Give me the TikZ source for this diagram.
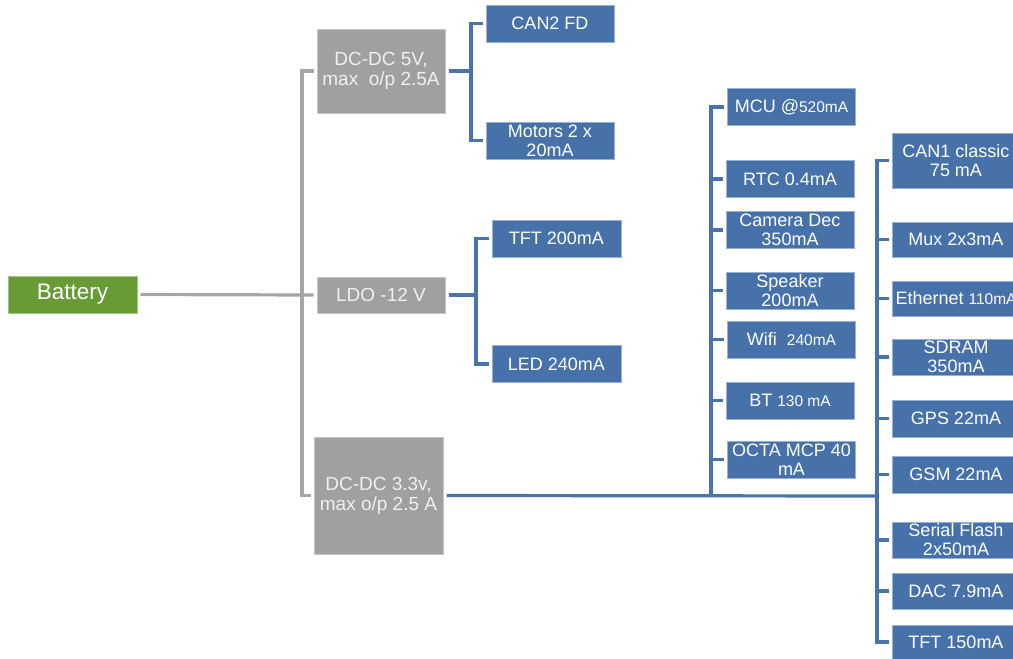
\documentclass[tikz,border=0pt]{standalone}
\usepackage{fontspec}
\setmainfont{Liberation Sans}
\usepackage{xcolor}
\usetikzlibrary{calc}

\definecolor{battgreen}{HTML}{689A35}
\definecolor{regrey}{HTML}{A0A0A0}
\definecolor{wiregrey}{HTML}{A6A6A6}
\definecolor{loadblue}{HTML}{4671A9}
\definecolor{wireblue}{HTML}{4873AB}

\newcommand{\sml}[1]{{\fontsize{15.5}{16}\selectfont #1}}

\begin{document}
\begin{tikzpicture}[
  x=1pt, y=-1pt,
  every node/.style={font=\fontsize{18}{19}\selectfont, align=center,
                     inner sep=1pt, outer sep=3.5pt},
  src/.style={fill=battgreen, draw=battgreen!60!white, line width=0.8pt,
              text=white, font=\fontsize{22.5}{24}\selectfont,
              minimum width=129pt, minimum height=37pt},
  reg/.style={fill=regrey, draw=regrey!60!white, line width=0.8pt,
              text=white!94!black, font=\fontsize{19}{20}\selectfont,
              minimum width=128pt, minimum height=36pt},
  load/.style={fill=loadblue, draw=loadblue!55!white, line width=0.8pt,
               text=white, minimum width=128pt, minimum height=37pt},
  gline/.style={draw=wiregrey, line width=3.2pt},
  bline/.style={draw=wireblue, line width=3.2pt},
]
  \useasboundingbox (0,0) rectangle (1013,659);

  % Source
  \node[src] (bat) at (72.5,294.5) {Battery};

  % Regulators
  \node[reg, minimum height=84pt] (dc5) at (381,71) {DC-DC 5V,\\max~ o/p 2.5A};
  \node[reg] (ldo) at (381,295) {LDO -12 V};
  \node[reg, minimum width=129pt, minimum height=117pt] (dc33) at (378.5,495.5)
    {DC-DC 3.3v,\\max o/p 2.5 A};

  % 5 V and -12 V loads
  \node[load] (can2) at (550,23.5) {CAN2 FD};
  \node[load] (mot) at (550,140.5) {Motors 2 x\\20mA};
  \node[load, minimum width=129pt] (tft) at (556.5,238.5) {TFT 200mA};
  \node[load, minimum width=129pt] (led) at (556.5,364) {LED 240mA};

  % 3.3 V loads, first column
  \node[load] (mcu) at (791.5,107) {MCU @\sml{520mA}};
  \node[load] (rtc) at (790,179) {RTC 0.4mA};
  \node[load] (cam) at (790,230) {Camera Dec\\350mA};
  \node[load] (spk) at (790,290.5) {Speaker\\200mA};
  \node[load] (wifi) at (791.5,339.5) {Wifi~ \sml{240mA}};
  \node[load] (bt) at (790,400.5) {BT \sml{130 mA}};
  \node[load] (octa) at (791.5,459.5) {OCTA MCP 40\\mA};

  % 3.3 V loads, second column
  \node[load, minimum height=55pt] (can1) at (956,160.5) {CAN1 classic\\75 mA};
  \node[load, minimum height=35pt] (mux) at (956,239.5) {Mux 2x3mA};
  \node[load, minimum height=35pt] (eth) at (956,298.5) {Ethernet \sml{110mA}};
  \node[load, minimum height=36pt] (sdram) at (956,357) {SDRAM\\350mA};
  \node[load] (gps) at (956,418.5) {GPS 22mA};
  \node[load] (gsm) at (956,474.5) {GSM 22mA};
  \node[load, minimum height=36pt] (sflash) at (956,540) {Serial Flash\\2x50mA};
  \node[load, minimum height=36pt] (dac) at (956,591) {DAC 7.9mA};
  \node[load, minimum height=34pt] (tft2) at (956,642) {TFT 150mA};

  % Bus junctions
  \coordinate (gbus) at (302,295);
  \coordinate (b5) at (471,71);
  \coordinate (bldo) at (476,295);
  \coordinate (bmid) at (711,496);
  \coordinate (bright) at (877,496);

  % Battery to regulators
  \draw[gline] (bat.east) -- (ldo.west);
  \draw[gline] (dc5.west) -| (gbus) |- (dc33.west);

  % Regulators to loads
  \draw[bline] (dc5.east) -- (b5);
  \draw[bline] (can2.west) -| (b5) |- (mot.west);
  \draw[bline] (ldo.east) -- (bldo);
  \draw[bline] (tft.west) -| (bldo) |- (led.west);
  \draw[bline] (dc33.east) -- (bright);
  \draw[bline] (mcu.west) -| (bmid);
  \foreach \n in {rtc,cam,spk,wifi,bt,octa}
    \draw[bline] (\n.west) -- (\n.west -| bmid);
  \draw[bline] (can1.west) -| (bright) |- (tft2.west);
  \foreach \n in {mux,eth,sdram,gps,gsm,sflash,dac}
    \draw[bline] (\n.west) -- (\n.west -| bright);
\end{tikzpicture}
\end{document}
